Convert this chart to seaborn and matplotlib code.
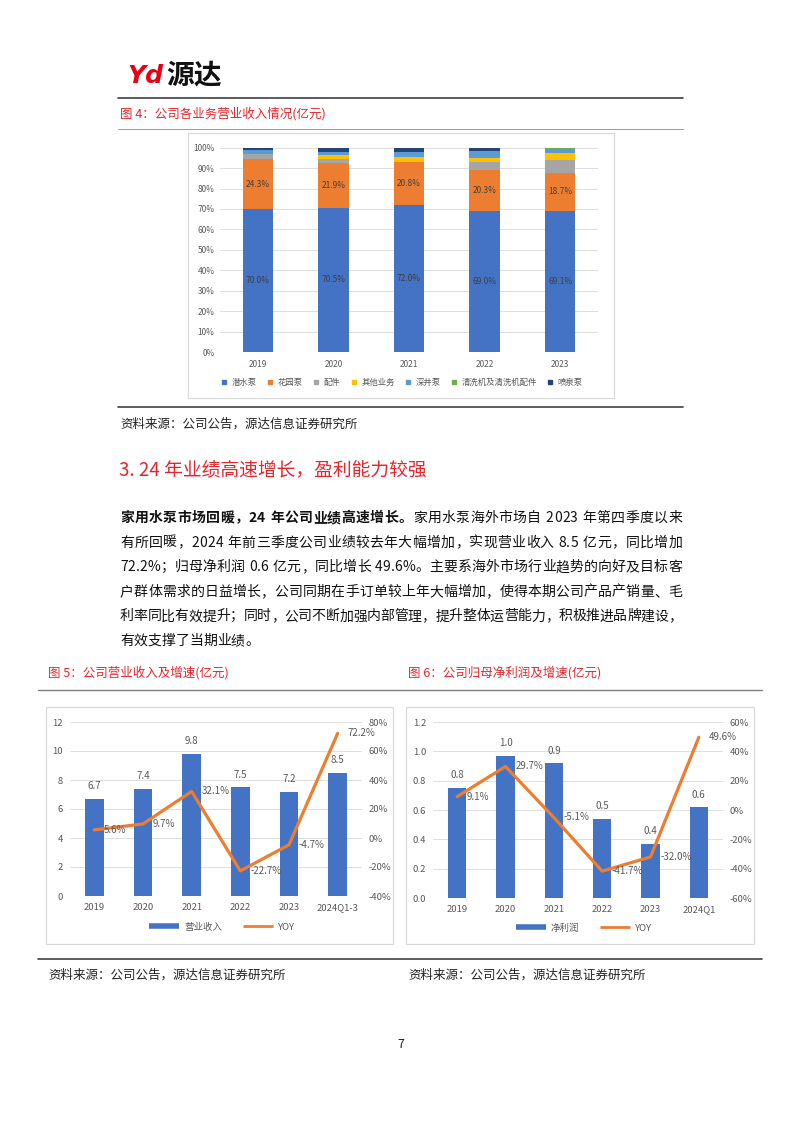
import numpy as np
import seaborn as sns
import matplotlib
matplotlib.use('Agg')
import matplotlib.pyplot as plt
from matplotlib.lines import Line2D
from matplotlib.patches import Rectangle

# ---- 图4: 各业务营业收入占比 (%) ----
years = ['2019', '2020', '2021', '2022', '2023']
share_submersible = [70.0, 70.5, 72.0, 69.0, 69.1]   # 潜水泵
share_garden = [24.3, 21.9, 20.8, 20.3, 18.7]        # 花园泵
share_parts = [2.4, 2.1, 0.2, 3.6, 6.4]              # 配件
share_other = [0.0, 1.8, 2.3, 2.1, 3.1]              # 其他业务
share_deepwell = [2.2, 1.8, 2.6, 3.1, 1.8]           # 深井泵
share_washer = [0.0, 0.0, 0.0, 0.5, 0.9]             # 清洗机及清洗机配件
share_fountain = [1.1, 1.9, 2.1, 1.4, 0.0]           # 喷泉泵
segment_names = ['潜水泵', '花园泵', '配件', '其他业务', '深井泵', '清洗机及清洗机配件', '喷泉泵']

# ---- 图5: 营业收入 (亿元) 及增速 ----
rev_periods = ['2019', '2020', '2021', '2022', '2023', '2024Q1-3']
revenue = [6.7, 7.4, 9.8, 7.5, 7.2, 8.5]
revenue_yoy = [5.6, 9.7, 32.1, -22.7, -4.7, 72.2]

# ---- 图6: 归母净利润 (亿元) 及增速 ----
np_periods = ['2019', '2020', '2021', '2022', '2023', '2024Q1']
net_profit = [0.75, 0.97, 0.92, 0.54, 0.37, 0.62]
profit_yoy = [9.1, 29.7, -5.1, -41.7, -32.0, 49.6]

SEG_COLORS = ['#4472C4', '#ED7D31', '#A5A5A5', '#FFC000', '#5B9BD5', '#70AD47', '#264478']
BLUE, ORANGE = '#4472C4', '#ED7D31'
RED = '#E5262D'
GRID = '#D9D9D9'
TICK = '#595959'

sns.set_theme(style='white')
plt.rcParams['font.family'] = ['Noto Sans CJK SC', 'DejaVu Sans']
plt.rcParams['axes.unicode_minus'] = False

W, H = 802, 1133
fig = plt.figure(figsize=(W / 100, H / 100), dpi=100)
fig.patch.set_facecolor('white')


def fig_box(x0, y0, x1, y1):
    return [x0 / W, 1 - y1 / H, (x1 - x0) / W, (y1 - y0) / H]


def hline(y, x0, x1, color='#404040', lw=1.2):
    fig.add_artist(Line2D([x0 / W, x1 / W], [1 - y / H] * 2, color=color, lw=lw))


def frame(x0, y0, x1, y1):
    fig.add_artist(Rectangle((x0 / W, 1 - y1 / H), (x1 - x0) / W, (y1 - y0) / H,
                             fill=False, ec='#D9D9D9', lw=0.9))


def ftext(x, y, s, **kw):
    kw.setdefault('va', 'center')
    return fig.text(x / W, 1 - y / H, s, **kw)


def style_axis(ax, fs):
    for sp in ax.spines.values():
        sp.set_visible(False)
    ax.tick_params(length=0, labelsize=fs, labelcolor=TICK)
    ax.set_xlabel('')
    ax.set_ylabel('')


# ---------------- header ----------------
ftext(127, 76, 'Yd', fontsize=18, fontweight='bold', fontstyle='italic',
      color='#E60012', family=['DejaVu Sans'])
ftext(166, 75, '源达', fontsize=20, fontweight='bold', color='#111111')
hline(97.5, 118, 683)
ftext(120, 114, '图 4：公司各业务营业收入情况(亿元)', fontsize=9, color=RED)
hline(129, 118, 683, color='#8C8C8C', lw=0.6)

# ---------------- 图4 stacked bars ----------------
frame(188, 133, 614, 398)
ax = fig.add_axes(fig_box(220, 147.7, 598, 352))
stack = np.array([share_submersible, share_garden, share_parts, share_other,
                  share_deepwell, share_washer, share_fountain])
cum = stack.cumsum(axis=0)
for i in range(len(stack) - 1, -1, -1):
    sns.barplot(x=years, y=cum[i], color=SEG_COLORS[i], width=0.4, saturation=1,
                linewidth=0, ax=ax)
for i in (0, 1):
    for j in range(len(years)):
        ax.text(j, cum[i][j] - stack[i][j] / 2, f'{stack[i][j]:.1f}%', ha='center',
                va='center', fontsize=6, color='#404040')
ax.set_ylim(0, 100)
ax.set_xlim(-0.5, len(years) - 0.5)
ax.set_yticks(range(0, 101, 10))
ax.set_yticklabels([f'{v}%' for v in range(0, 101, 10)])
ax.yaxis.grid(True, color=GRID, lw=0.6)
ax.set_axisbelow(True)
style_axis(ax, 6)
ax.tick_params(axis='x', pad=6)
ax.tick_params(axis='y', pad=4)
handles = [Line2D([], [], marker='s', ls='', color=c, markersize=3.5) for c in SEG_COLORS]
fig.legend(handles, segment_names, loc='center', bbox_to_anchor=(402 / W, 1 - 382 / H),
           ncol=7, frameon=False, fontsize=6, handlelength=0.8, handletextpad=0.5,
           columnspacing=1.2, labelcolor=TICK)

hline(407, 118, 683)
ftext(120, 424, '资料来源：公司公告，源达信息证券研究所', fontsize=9, color='#222222')

# ---------------- section heading + paragraph ----------------
ftext(119, 470, '3. 24 年业绩高速增长，盈利能力较强', fontsize=13.5, color=RED)

para = [
    [('家用水泵市场回暖，24 年公司业绩高速增长。', 'bold'),
     ('家用水泵海外市场自 2023 年第四季度以来', 'normal')],
    [('有所回暖，2024 年前三季度公司业绩较去年大幅增加，实现营业收入 8.5 亿元，同比增加', 'normal')],
    [('72.2%；归母净利润 0.6 亿元，同比增长 49.6%。主要系海外市场行业趋势的向好及目标客', 'normal')],
    [('户群体需求的日益增长，公司同期在手订单较上年大幅增加，使得本期公司产品产销量、毛', 'normal')],
    [('利率同比有效提升；同时，公司不断加强内部管理，提升整体运营能力，积极推进品牌建设，', 'normal')],
    [('有效支撑了当期业绩。', 'normal')],
]
renderer = fig.canvas.get_renderer()
PFS = 10
for k, pieces in enumerate(para):
    y = 518 + 24.6 * k
    items = []
    for text, weight in pieces:
        for ch in text:
            if ch == ' ':
                items.append((None, PFS * 1.389 * 0.28))
            else:
                t = ftext(0, y, ch, fontsize=PFS, fontweight=weight, color='#111111')
                items.append((t, t.get_window_extent(renderer).width))
    total = sum(w for _, w in items)
    last = k == len(para) - 1
    gap = 0 if last else (682 - 120 - total) / (len(items) - 1)
    x = 120
    for t, w in items:
        if t is not None:
            t.set_x(x / W)
        x += w + gap

# ---------------- 图5 / 图6 captions ----------------
ftext(48, 673, '图 5：公司营业收入及增速(亿元)', fontsize=9, color=RED)
ftext(408, 673, '图 6：公司归母净利润及增速(亿元)', fontsize=9, color=RED)
hline(690, 38, 762, color='#7F7F7F', lw=1.0)


def combo(box, frame_box, periods, values, yoy, ylim, yticks, yfmt, y2lim, y2ticks,
          bar_name, legend_xy):
    frame(*frame_box)
    ax = fig.add_axes(fig_box(*box))
    sns.barplot(x=periods, y=values, color=BLUE, width=0.38, saturation=1,
                linewidth=0, ax=ax)
    for j, v in enumerate(values):
        ax.annotate(f'{v:.1f}', (j, v), xytext=(0, 9), textcoords='offset points',
                    ha='center', va='center', fontsize=7, color=TICK)
    ax.set_ylim(*ylim)
    ax.set_yticks(yticks)
    ax.set_yticklabels([yfmt.format(v) for v in yticks])
    ax.yaxis.grid(True, color=GRID, lw=0.6)
    ax.set_axisbelow(True)
    style_axis(ax, 6.8)
    ax.tick_params(axis='x', pad=5)
    ax.tick_params(axis='y', pad=5)

    ax2 = ax.twinx()
    sns.lineplot(x=np.arange(len(yoy)), y=yoy, color=ORANGE, lw=2.3, ax=ax2)
    for j, v in enumerate(yoy):
        ax2.annotate(f'{v:.1f}%', (j, v), xytext=(7, 0), textcoords='offset points',
                     ha='left', va='center', fontsize=7, color=TICK)
    ax2.set_ylim(*y2lim)
    ax2.set_yticks(y2ticks)
    ax2.set_yticklabels([f'{v}%' for v in y2ticks])
    ax2.grid(False)
    style_axis(ax2, 6.8)
    ax2.tick_params(axis='y', pad=5)
    ax.set_xlim(-0.5, len(periods) - 0.5)

    hd = [Line2D([], [], color=BLUE, lw=4, solid_capstyle='butt'),
          Line2D([], [], color=ORANGE, lw=2, solid_capstyle='butt')]
    fig.legend(hd, [bar_name, 'YOY'], loc='center',
               bbox_to_anchor=(legend_xy[0] / W, 1 - legend_xy[1] / H), ncol=2,
               frameon=False, fontsize=6.8, handlelength=3.2, handletextpad=0.5,
               columnspacing=2.2, labelcolor=TICK)


combo((70, 722, 362, 896), (46, 707, 393, 944), rev_periods, revenue, revenue_yoy,
      (0, 12), list(range(0, 13, 2)), '{:d}', (-40, 80), list(range(-40, 81, 20)),
      '营业收入', (222, 927))
combo((433, 722, 723, 898), (406, 707, 754, 944), np_periods, net_profit, profit_yoy,
      (0, 1.2), [0.0, 0.2, 0.4, 0.6, 0.8, 1.0, 1.2], '{:.1f}', (-60, 60),
      list(range(-60, 61, 20)), '净利润', (584, 928))

hline(959, 38, 762)
ftext(48, 975, '资料来源：公司公告，源达信息证券研究所', fontsize=9, color='#222222')
ftext(408, 975, '资料来源：公司公告，源达信息证券研究所', fontsize=9, color='#222222')
ftext(401, 1045, '7', fontsize=9, ha='center', color='#222222')

fig.savefig('out.png', dpi=100)
